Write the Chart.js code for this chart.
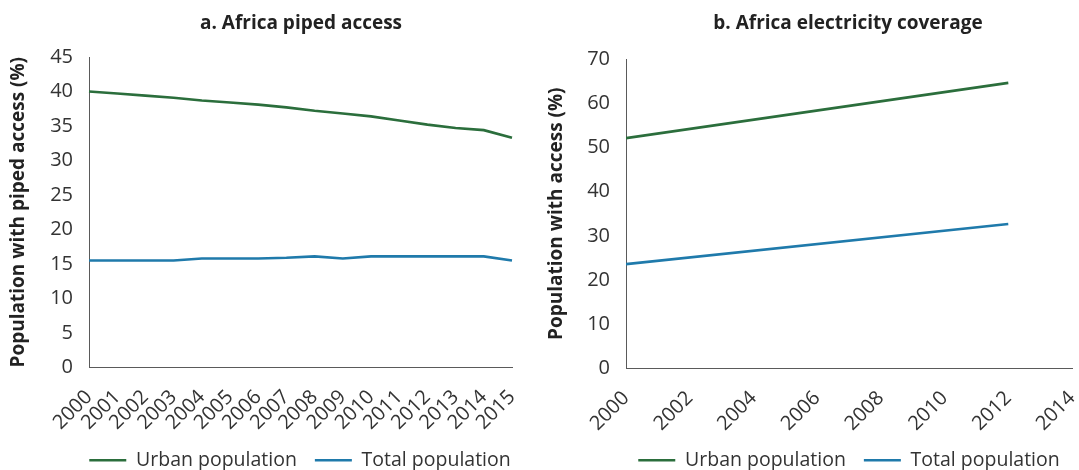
<!DOCTYPE html>
<html>
<head>
<meta charset="utf-8">
<script src="https://cdn.jsdelivr.net/npm/chart.js@4.4.1/dist/chart.umd.min.js"></script>
<style>
  html, body { margin: 0; padding: 0; background: #fff; overflow: hidden; }
  #wrap { position: relative; width: 1079px; height: 470px; overflow: hidden; }
  .panel-title { position: absolute; top: 9px; font: bold 19px "Open Sans", sans-serif; color: #222; transform: translateX(-50%); white-space: nowrap; }
  canvas { position: absolute; top: 0; }
</style>
</head>
<body>
<div id="wrap">
  <canvas id="piped" width="600" height="480" style="left:0;width:600px;height:480px"></canvas>
  <canvas id="elec" width="618" height="480" style="left:540px;width:618px;height:480px"></canvas>
  <div class="panel-title" style="left:301px">a. Africa piped access</div>
  <div class="panel-title" style="left:848px">b. Africa electricity coverage</div>
</div>
<script>
// Panel a: share of population with piped water access, by year
const pipedYears = ['2000','2001','2002','2003','2004','2005','2006','2007','2008','2009','2010','2011','2012','2013','2014','2015'];
const pipedUrban = [40.0, 39.7, 39.4, 39.1, 38.7, 38.4, 38.1, 37.7, 37.2, 36.8, 36.4, 35.8, 35.2, 34.7, 34.4, 33.3];
const pipedTotal = [15.5, 15.5, 15.5, 15.5, 15.8, 15.8, 15.8, 15.9, 16.1, 15.8, 16.1, 16.1, 16.1, 16.1, 16.1, 15.5];

// Panel b: share of population with electricity access
const elecYears = [2000, 2012];
const elecUrban = [52.1, 64.6];
const elecTotal = [23.6, 32.7];
const elecTickYears = [2000, 2002, 2004, 2006, 2008, 2010, 2012, 2014];

const GREEN = '#2b6e3c';
const BLUE = '#1f7aab';
const AXIS = '#5a5a5a';
const TEXT = '#333';
const FONT = '"Open Sans", sans-serif';

Chart.defaults.font.family = FONT;
Chart.defaults.color = TEXT;

function lineDataset(label, data, color) {
  return {
    label, data,
    borderColor: color, backgroundColor: color,
    borderWidth: 2.6, pointRadius: 0, tension: 0, fill: false
  };
}

function commonOptions(cfg) {
  return {
    responsive: false,
    animation: false,
    events: [],
    layout: { padding: { left: 0, top: cfg.top, right: 0, bottom: 0 } },
    plugins: {
      title: { display: false },
      tooltip: { enabled: false },
      legend: {
        position: 'bottom',
        labels: {
          usePointStyle: true, pointStyle: 'line', pointStyleWidth: 37,
          boxHeight: 19.5,
          padding: 18,
          color: TEXT,
          font: { size: 19.5, family: FONT }
        }
      }
    },
    scales: {
      x: Object.assign({
        grid: { display: false, drawTicks: true, tickLength: 7, tickColor: AXIS },
        border: { display: true, color: AXIS, width: 1 },
        ticks: {
          autoSkip: false, minRotation: 45, maxRotation: 45, padding: 11,
          color: TEXT, font: { size: 20, family: FONT },
          callback: cfg.xLabel
        },
        afterFit: (s) => { s.height = cfg.xHeight; }
      }, cfg.x),
      y: {
        min: 0, max: cfg.yMax,
        grid: { display: false, drawTicks: true, tickLength: 8, tickColor: AXIS },
        border: { display: true, color: AXIS, width: 1 },
        ticks: { stepSize: cfg.yStep, padding: 8, color: TEXT, font: { size: 20, family: FONT } },
        title: {
          display: true, text: cfg.yTitle, color: '#222',
          font: { size: 19, weight: 'bold', family: FONT },
          padding: { top: cfg.titlePad, bottom: 0 }
        },
        afterFit: (s) => { s.width = cfg.yWidth; }
      },
      // empty right-hand gutter so the plot ends where the year axis ends
      gutter: {
        type: 'linear', position: 'right', display: true,
        grid: { display: false, drawTicks: false },
        border: { display: false },
        ticks: { display: false },
        afterFit: (s) => { s.width = cfg.right; }
      }
    }
  };
}

new Chart(document.getElementById('piped'), {
  type: 'line',
  data: {
    labels: pipedYears,
    datasets: [
      lineDataset('Urban population', pipedUrban, GREEN),
      lineDataset('Total population', pipedTotal, BLUE)
    ]
  },
  options: commonOptions({
    top: 57, right: 88, xHeight: 65, yWidth: 89, yMax: 45, yStep: 5,
    titlePad: 7, yTitle: 'Population with piped access (%)',
    xLabel: function (v) { return this.getLabelForValue(v); },
    x: { type: 'category', offset: false }
  })
});

new Chart(document.getElementById('elec'), {
  type: 'line',
  data: {
    datasets: [
      lineDataset('Urban population', elecYears.map((x, i) => ({ x, y: elecUrban[i] })), GREEN),
      lineDataset('Total population', elecYears.map((x, i) => ({ x, y: elecTotal[i] })), BLUE)
    ]
  },
  options: commonOptions({
    top: 59, right: 86, xHeight: 64, yWidth: 86, yMax: 70, yStep: 10,
    titlePad: 5, yTitle: 'Population with access (%)',
    xLabel: (v) => String(v),
    x: {
      type: 'linear', min: 2000, max: 2014, offset: false,
      afterBuildTicks: (s) => { s.ticks = elecTickYears.map(v => ({ value: v })); }
    }
  })
});
</script>
</body>
</html>
